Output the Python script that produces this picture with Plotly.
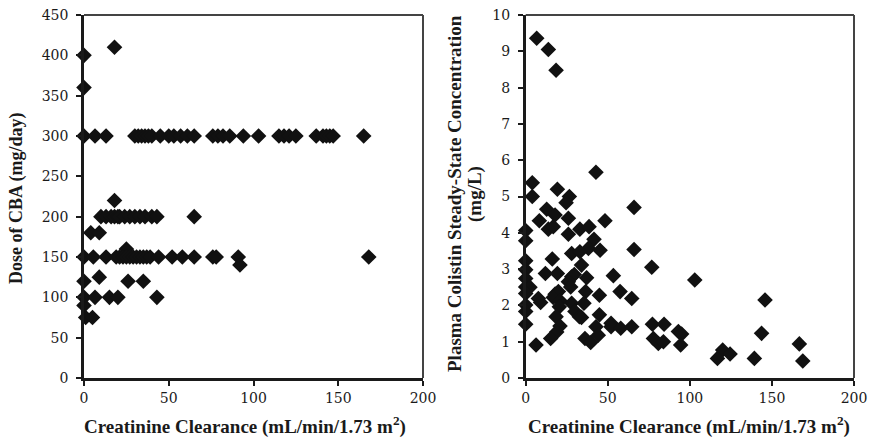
import plotly.graph_objects as go

# Left panel: creatinine clearance vs CBA dose
dose_cl = [0, 0, 18,
           0, 6.5, 13, 30, 32, 34, 36, 38, 40, 45, 50, 53, 57, 61, 65, 76, 79, 82, 86, 94, 103, 115, 118, 121, 125, 137, 141, 143, 145, 147, 165,
           10, 13, 16, 18, 20, 21, 24, 27, 30, 33, 36, 40, 43, 65,
           18, 4, 9, 25,
           0, 5.5, 13, 19, 21, 23, 25, 27, 29, 31, 33, 35, 37, 39, 44, 52, 58, 65, 76, 78, 168,
           91, 92,
           0, 26, 35, 9,
           0, 6.5, 15, 20, 43,
           0, 1, 5]
dose_mg = [400, 360, 410,
           300, 300, 300, 300, 300, 300, 300, 300, 300, 300, 300, 300, 300, 300, 300, 300, 300, 300, 300, 300, 300, 300, 300, 300, 300, 300, 300, 300, 300, 300, 300,
           200, 200, 200, 200, 200, 200, 200, 200, 200, 200, 200, 200, 200, 200,
           220, 180, 180, 160,
           150, 150, 150, 150, 150, 150, 150, 150, 150, 150, 150, 150, 150, 150, 150, 150, 150, 150, 150, 150, 150,
           150, 140,
           120, 120, 120, 125,
           100, 100, 100, 100, 100,
           90, 75, 75]

# Right panel: creatinine clearance vs plasma colistin concentration
conc_cl = [6.7, 13.8, 18.5, 4.0, 42.8, 4.0, 19.3, 26.6, 24.6, 12.8, 17.9, 66, 8.3, 26,
           13.8, 16.8, 48.3, 33, 38.6, 0, 0, 26, 41.6, 38.2, 45.3, 28, 33, 66,
           16.2, 0, 34, 76.8, 0, 12, 19.3, 53.4, 28, 29.6, 37.1, 0, 0, 26, 27.4, 2.6,
           57.5, 36.5, 0, 17.9, 19.9, 44.9, 64.6, 7.7, 9.1, 16.8, 20.9, 0, 28, 35.5,
           20.5, 0, 30, 32.7, 18.5, 34, 44.9, 0, 20.9, 18.9, 42.8, 52, 52, 57.9, 64.6,
           77.2, 84.3, 15.2, 36.1, 39.6, 44.2, 6.3, 77.8, 80.8, 83.9,
           103, 145.8, 93, 95, 94.4, 120, 124.5, 116.8, 139.3, 143.7, 166.7, 168.8]
conc_mgl = [9.36, 9.05, 8.48, 5.38, 5.67, 5.0, 5.2, 5.0, 4.83, 4.65, 4.49, 4.7, 4.33, 4.4,
            4.1, 4.17, 4.33, 4.1, 4.17, 4.06, 3.78, 3.96, 3.82, 3.57, 3.52, 3.43, 3.48, 3.54,
            3.28, 3.23, 3.11, 3.05, 2.98, 2.88, 2.88, 2.82, 2.79, 2.85, 2.76, 2.74, 2.51, 2.65, 2.51, 2.5,
            2.38, 2.38, 2.33, 2.31, 2.38, 2.28, 2.19, 2.19, 2.08, 2.22, 2.13, 2.01, 2.06, 2.06,
            1.96, 1.83, 1.83, 1.69, 1.69, 1.67, 1.74, 1.48, 1.43, 1.27, 1.41, 1.51, 1.41, 1.37, 1.41,
            1.48, 1.48, 1.09, 1.09, 0.98, 1.18, 0.91, 1.09, 0.95, 1.0,
            2.7, 2.15, 1.28, 1.21, 0.91, 0.77, 0.66, 0.54, 0.54, 1.23, 0.94, 0.47]

x_ticks = [0, 50, 100, 150, 200]
left_y_ticks = list(range(0, 451, 50))
right_y_ticks = list(range(0, 11, 1))

xtitle = "<b>Creatinine Clearance (mL/min/1.73 m<sup>2</sup>)</b>"
left_ytitle = "<b>Dose of CBA (mg/day)</b>"
right_ytitle_1 = "<b>Plasma Colistin Steady-State Concentration</b>"
right_ytitle_2 = "<b>(mg/L)</b>"

FONT = "Liberation Serif"
TICKFONT = "DejaVu Serif"
W, H = 876, 440
OFF = 8  # page body margin offsets the figure
# target (screen) plot rectangle: y from 15 to 378
ML, MR = 40, 12
MT = 15 - OFF
MB = H - (378 - OFF)
PW = W - ML - MR
PH = H - MT - MB


def fx(px):
    return (px - OFF - ML) / PW


def fy(py):
    return ((H - MB) - (py - OFF)) / PH


fig = go.Figure()
mk = dict(symbol="diamond", size=12, color="#111111", line=dict(width=0))
fig.add_trace(go.Scatter(x=dose_cl, y=dose_mg, mode="markers", marker=mk,
                         xaxis="x", yaxis="y", cliponaxis=False, showlegend=False))
fig.add_trace(go.Scatter(x=conc_cl, y=conc_mgl, mode="markers", marker=mk,
                         xaxis="x2", yaxis="y2", cliponaxis=False, showlegend=False))

dL = [fx(84), fx(423)]
dR = [fx(525.7), fx(854)]

axis_common = dict(showgrid=False, zeroline=False, showline=True, linecolor="#1a1a1a",
                   linewidth=2.5, ticks="outside", ticklen=5, tickwidth=1.5, tickcolor="#1a1a1a",
                   automargin=False, ticklabeloverflow="allow",
                   tickfont=dict(family=TICKFONT, size=14, color="#1a1a1a"))

fig.update_layout(
    width=W, height=H,
    margin=dict(l=ML, r=MR, t=MT, b=MB),
    paper_bgcolor="white", plot_bgcolor="white",
    xaxis=dict(domain=dL, range=[0, 200], tickvals=x_ticks, anchor="y", **axis_common),
    yaxis=dict(domain=[0, 1], range=[0, 450], tickvals=left_y_ticks, anchor="x",
               ticklabelstandoff=5, **axis_common),
    xaxis2=dict(domain=dR, range=[0, 200], tickvals=x_ticks, anchor="y2", **axis_common),
    yaxis2=dict(domain=[0, 1], range=[0, 10], tickvals=right_y_ticks, anchor="x2",
                ticklabelstandoff=5, **axis_common),
)

# top/right frame lines (thin grey)
for xr, yr in (("x domain", "y domain"), ("x2 domain", "y2 domain")):
    fig.add_shape(type="line", xref=xr, yref=yr, x0=0, x1=1, y0=1, y1=1,
                  line=dict(color="#444444", width=2))
    fig.add_shape(type="line", xref=xr, yref=yr, x0=1, x1=1, y0=0, y1=1,
                  line=dict(color="#444444", width=2))

tfont = dict(family=FONT, size=19, color="#1a1a1a")
for cx in (245, 689):
    fig.add_annotation(text=xtitle, xref="paper", yref="paper", x=fx(cx), y=fy(425),
                       yanchor="middle", xanchor="center", showarrow=False, font=tfont)
fig.add_annotation(text=left_ytitle, xref="paper", yref="paper", x=fx(16), y=fy(198),
                   textangle=-90, showarrow=False, font=dict(family=FONT, size=18, color="#1a1a1a"),
                   xanchor="center", yanchor="middle")
fig.add_annotation(text=right_ytitle_1, xref="paper", yref="paper", x=fx(454), y=fy(194),
                   textangle=-90, showarrow=False, font=tfont, xanchor="center", yanchor="middle")
fig.add_annotation(text=right_ytitle_2, xref="paper", yref="paper", x=fx(475), y=fy(194),
                   textangle=-90, showarrow=False, font=tfont, xanchor="center", yanchor="middle")

fig.write_html("out.html")
